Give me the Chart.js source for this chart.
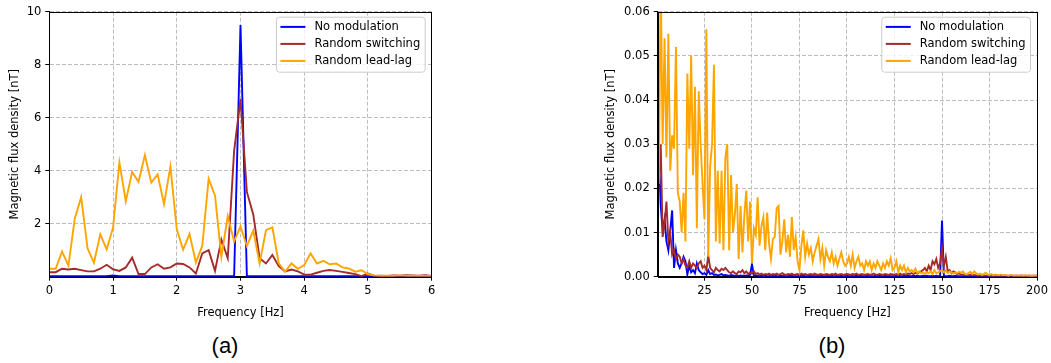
<!DOCTYPE html>
<html>
<head>
<meta charset="utf-8">
<script src="https://cdn.jsdelivr.net/npm/chart.js@4.4.1/dist/chart.umd.min.js"></script>
<style>
    body { margin: 0; background: #fff; width: 1051px; height: 363px; position: relative; overflow: hidden; }
    canvas { position: absolute; top: 0; }
    #chartA { left: 0; }
    #chartB { left: 596px; }
    .caption { position: absolute; top: 333px; font: 22px "Liberation Sans", Arial, sans-serif; color: #000; transform: translateX(-50%); }
</style>
</head>
<body>
<canvas id="chartA" width="445" height="320"></canvas>
<canvas id="chartB" width="455" height="320"></canvas>
<div class="caption" style="left:225px">(a)</div>
<div class="caption" style="left:832px">(b)</div>
<script>
const seriesLabels = ['No modulation', 'Random switching', 'Random lead-lag'];
const seriesColors = ['#0000ff', '#a52a2a', '#ffa500'];

// (a) low frequency range, 0.1 Hz steps
const freqA = Array.from({ length: 61 }, (_, i) => Math.round(i) / 10);
const noModA = [0.02,0.02,0.02,0.02,0.02,0.02,0.02,0.02,0.02,0.02,
    0.05,0.02,0.02,0.02,0.02,0.02,0.02,0.02,0.02,0.02,
    0.02,0.02,0.02,0.02,0.02,0.02,0.02,0.02,0.02,0.02,
    9.5,0.02,0.02,0.02,0.02,0.02,0.02,0.02,0.02,0.02,
    0.02,0.02,0.02,0.02,0.02,0.02,0.02,0.02,0.02,0.02,
    0.02,0.02,0.02,0.02,0.02,0.02,0.02,0.02,0.02,0.02,0.02];
const switchA = [0.17,0.17,0.3,0.27,0.3,0.25,0.2,0.2,0.3,0.45,
    0.28,0.22,0.35,0.72,0.1,0.1,0.35,0.47,0.3,0.35,
    0.5,0.48,0.35,0.12,0.88,1.0,0.22,1.4,0.7,4.75,
    6.7,3.2,2.35,0.7,0.5,0.82,0.4,0.2,0.27,0.2,
    0.08,0.08,0.15,0.22,0.25,0.22,0.18,0.14,0.1,0.02,
    0.12,0.03,0.04,0.03,0.05,0.04,0.06,0.05,0.04,0.06,0.03];
const leadLagA = [0.3,0.3,0.95,0.42,2.2,3.0,1.07,0.53,1.6,1.03,
    1.85,4.31,2.85,3.95,3.58,4.59,3.55,3.86,2.74,4.16,
    1.79,1.02,1.61,0.54,1.16,3.7,3.06,0.75,2.29,1.33,
    1.9,1.16,1.74,0.5,1.76,1.86,0.5,0.19,0.5,0.3,
    0.44,0.88,0.5,0.6,0.47,0.5,0.35,0.31,0.19,0.24,
    0.1,0.05,0.03,0.04,0.03,0.05,0.03,0.04,0.03,0.03,0.03];

// (b) wide frequency range, 1 Hz steps from 1 to 200 Hz
const freqB = Array.from({ length: 200 }, (_, i) => i + 1);
const noModB = [0.028,0.016,0.0105,0.013,0.008,0.006,0.0105,0.015,0.002,0.006,
    0.003,0.002,0.003,0.0045,0.0035,0.0005,0.0025,0.001,0.0015,0.0008,
    0.003,0.0015,0.001,0.0006,0.0008,0.0004,0.0015,0.0006,0.0008,0.0004,
    0.0005,0.0003,0.0004,0.0006,0.0003,0.0004,0.0003,0.0002,0.0004,0.0003,
    0.0002,0.0003,0.0002,0.0003,0.0002,0.0002,0.0003,0.0002,0.0004,0.0028,
    0.0003,0.0002,0.0002,0.0001,0.0002,0.0001,0.0002,0.0001,0.0001,0.0002,
    0.0001,0.0002,0.0001,0.0001,0.0002,0.0001,0.0002,0.0001,0.0001,0.0002,
    0.0001,0.0002,0.0001,0.0001,0.0002,0.0001,0.0002,0.0001,0.0001,0.0002,
    0.0001,0.0002,0.0001,0.0001,0.0002,0.0001,0.0002,0.0001,0.0001,0.0002,
    0.0001,0.0002,0.0001,0.0001,0.0002,0.0001,0.0002,0.0001,0.0001,0.0002,
    0.0001,0.0002,0.0001,0.0001,0.0002,0.0001,0.0002,0.0001,0.0001,0.0002,
    0.0001,0.0002,0.0001,0.0001,0.0002,0.0001,0.0002,0.0001,0.0001,0.0002,
    0.0001,0.0002,0.0001,0.0001,0.0002,0.0001,0.0002,0.0001,0.0001,0.0002,
    0.0001,0.0002,0.0001,0.0001,0.0002,0.0001,0.0002,0.0001,0.0001,0.0002,
    0.0001,0.0002,0.0001,0.0001,0.0002,0.0001,0.0002,0.0001,0.0002,0.0127,
    0.0002,0.0001,0.0001,0.0002,0.0001,0.0001,0.0002,0.0001,0.0001,0.0001,
    0.0001,0.0001,0.0001,0.0001,0.0001,0.0001,0.0001,0.0001,0.0001,0.0001,
    0.0001,0.0001,0.0001,0.0001,0.0001,0.0001,0.0001,0.0001,0.0001,0.0001,
    0.0001,0.0001,0.0001,0.0001,0.0001,0.0001,0.0001,0.0001,0.0001,0.0001,
    0.0001,0.0001,0.0001,0.0001,0.0001,0.0001,0.0001,0.0001,0.0001,0.0001];
const switchB = [0.022,0.030,0.009,0.012,0.017,0.008,0.010,0.005,0.006,0.004,
    0.005,0.0045,0.003,0.004,0.0025,0.002,0.0035,0.002,0.003,0.0025,
    0.002,0.003,0.0035,0.002,0.0025,0.0015,0.0048,0.002,0.0015,0.001,
    0.002,0.0015,0.0012,0.0018,0.0015,0.002,0.0015,0.001,0.0008,0.0012,
    0.0008,0.0006,0.0012,0.001,0.0015,0.0008,0.0012,0.0006,0.0009,0.0007,
    0.0012,0.0006,0.0008,0.0005,0.0007,0.0004,0.0006,0.0005,0.0007,0.0004,
    0.0006,0.0005,0.0007,0.0004,0.0006,0.0008,0.0005,0.0004,0.0006,0.0005,
    0.0007,0.0004,0.0005,0.0006,0.0004,0.0007,0.0005,0.0006,0.0004,0.0005,
    0.0006,0.0004,0.0007,0.0005,0.0004,0.0006,0.0005,0.0004,0.0006,0.0005,
    0.0004,0.0006,0.0005,0.0007,0.0004,0.0005,0.0006,0.0004,0.0005,0.0006,
    0.0005,0.0004,0.0006,0.0005,0.0007,0.0004,0.0005,0.0006,0.0004,0.0005,
    0.0006,0.0004,0.0005,0.0007,0.0005,0.0004,0.0006,0.0005,0.0004,0.0006,
    0.0005,0.0004,0.0006,0.0005,0.0004,0.0006,0.0005,0.0007,0.0004,0.0006,
    0.0005,0.0007,0.0006,0.0008,0.0006,0.0009,0.0007,0.001,0.0012,0.0015,
    0.002,0.0012,0.0025,0.0015,0.0035,0.0028,0.004,0.002,0.003,0.0064,
    0.0025,0.0045,0.0012,0.0015,0.0008,0.0012,0.001,0.0006,0.0008,0.0004,
    0.0005,0.0003,0.0004,0.0003,0.0005,0.0003,0.0004,0.0003,0.0002,0.0003,
    0.0002,0.0003,0.0002,0.0003,0.0002,0.0002,0.0003,0.0002,0.0002,0.0003,
    0.0002,0.0002,0.0003,0.0002,0.0002,0.0002,0.0003,0.0002,0.0002,0.0002,
    0.0002,0.0003,0.0002,0.0002,0.0002,0.0003,0.0002,0.0002,0.0002,0.0002];
const leadLagB = [0.021,0.068,0.030,0.054,0.027,0.055,0.024,0.032,0.029,0.052,
    0.019,0.017,0.010,0.019,0.008,0.046,0.029,0.050,0.023,0.043,
    0.011,0.042,0.030,0.021,0.013,0.056,0.0045,0.025,0.030,0.048,
    0.008,0.024,0.0075,0.024,0.006,0.027,0.030,0.006,0.023,0.010,
    0.014,0.021,0.004,0.016,0.0055,0.014,0.0195,0.008,0.017,0.003,
    0.011,0.0095,0.018,0.007,0.0115,0.0135,0.006,0.0145,0.0075,0.004,
    0.0085,0.009,0.0155,0.016,0.005,0.008,0.013,0.0055,0.0095,0.0045,
    0.0135,0.006,0.009,0.0035,0.0015,0.007,0.0105,0.0045,0.0075,0.005,
    0.0065,0.0035,0.0055,0.007,0.0085,0.004,0.0065,0.0025,0.006,0.0045,
    0.0035,0.0055,0.003,0.0045,0.0025,0.004,0.0055,0.0035,0.0025,0.003,
    0.0045,0.0025,0.005,0.002,0.0035,0.0045,0.0025,0.003,0.0015,0.0035,
    0.0025,0.0035,0.0015,0.003,0.002,0.0035,0.0025,0.0015,0.003,0.002,
    0.0035,0.0025,0.0042,0.0015,0.002,0.0035,0.001,0.0025,0.0015,0.0025,
    0.001,0.002,0.0012,0.0015,0.001,0.0018,0.0008,0.0012,0.0008,0.001,
    0.0006,0.001,0.0008,0.0012,0.0006,0.0015,0.0008,0.001,0.0012,0.0015,
    0.001,0.0014,0.0008,0.0012,0.0009,0.0007,0.001,0.0008,0.0011,0.0009,
    0.0012,0.0007,0.0005,0.0009,0.0011,0.0006,0.0012,0.0008,0.0005,0.0007,
    0.0004,0.0006,0.0009,0.0005,0.0004,0.0006,0.0003,0.0005,0.0004,0.0003,
    0.0005,0.0003,0.0004,0.0003,0.0002,0.0004,0.0003,0.0002,0.0003,0.0002,
    0.0003,0.0002,0.0002,0.0003,0.0002,0.0002,0.0001,0.0002,0.0002,0.0002];

const FONT = { family: '"DejaVu Sans", sans-serif', size: 11.5 };

// draws the top/right spines and a matplotlib-style legend box in the upper right
const frameLegendPlugin = {
    id: 'frameLegend',
    afterDraw: (chart) => {
        const ctx = chart.ctx;
        const area = chart.chartArea;
        ctx.save();
        ctx.strokeStyle = '#000';
        ctx.lineWidth = 1;
        ctx.strokeRect(Math.round(area.left) + 0.5, Math.round(area.top) + 0.5,
            Math.round(area.right - area.left), Math.round(area.bottom - area.top));

        ctx.font = `${FONT.size}px ${FONT.family}`;
        const textW = Math.max(...seriesLabels.map(t => ctx.measureText(t).width));
        const w = 38 + textW + 5;
        const h = 55;
        const x = area.right - 6.5 - w;
        const y = area.top + 5.5;
        ctx.beginPath();
        ctx.roundRect(x, y, w, h, 3);
        ctx.fillStyle = 'rgba(255,255,255,0.8)';
        ctx.fill();
        ctx.strokeStyle = '#cccccc';
        ctx.stroke();
        ctx.textBaseline = 'middle';
        seriesLabels.forEach((label, i) => {
            const cy = y + 9.7 + i * 17;
            ctx.beginPath();
            ctx.moveTo(x + 4, cy);
            ctx.lineTo(x + 29, cy);
            ctx.strokeStyle = seriesColors[i];
            ctx.lineWidth = 2;
            ctx.stroke();
            ctx.fillStyle = '#000';
            ctx.fillText(label, x + 38, cy + 0.5);
        });
        ctx.restore();
    }
};

const makeDatasets = (freq, seriesList) => seriesList.map((values, i) => ({
    label: seriesLabels[i],
    data: values.map((v, k) => ({ x: freq[k], y: v })),
    borderColor: seriesColors[i],
    backgroundColor: seriesColors[i],
    borderWidth: 1.9,
    pointRadius: 0,
    tension: 0,
    order: 2 - i // lead-lag drawn on top
}));

const gridOpts = { color: '#bdbdbd', tickColor: '#000', tickLength: 4, lineWidth: 1 };

const renderSpectrumChart = ({ targetId, freq, seriesList, xOpts, yOpts, yAxisWidth, rightPad, yFormat }) => {
    const ctx = document.getElementById(targetId).getContext('2d');
    new Chart(ctx, {
        type: 'line',
        data: { datasets: makeDatasets(freq, seriesList) },
        options: {
            responsive: false,
            animation: false,
            layout: { padding: { top: 11.7, right: rightPad, bottom: 0, left: 0 } },
            plugins: { legend: { display: false }, tooltip: { enabled: false } },
            scales: {
                x: {
                    type: 'linear',
                    ...xOpts,
                    grid: gridOpts,
                    border: { display: true, color: '#000', dash: [4, 2] },
                    ticks: { ...xOpts.ticks, color: '#000', font: FONT, padding: 3, maxRotation: 0 },
                    title: { display: true, text: 'Frequency [Hz]', color: '#000', font: FONT, padding: { top: 7, bottom: 0 } },
                    afterFit: (scale) => { scale.height = 43.3; }
                },
                y: {
                    ...yOpts,
                    grid: gridOpts,
                    border: { display: true, color: '#000', dash: [4, 2] },
                    ticks: { ...yOpts.ticks, color: '#000', font: FONT, padding: 4, callback: yFormat },
                    title: { display: true, text: 'Magnetic flux density [nT]', color: '#000', font: FONT, padding: { top: 8, bottom: 0 } },
                    afterFit: (scale) => { scale.width = yAxisWidth; }
                }
            }
        },
        plugins: [frameLegendPlugin]
    });
};

renderSpectrumChart({
    targetId: 'chartA',
    freq: freqA,
    seriesList: [noModA, switchA, leadLagA],
    xOpts: { min: 0, max: 6, ticks: { stepSize: 1 } },
    yOpts: {
        min: 0, max: 10, ticks: { stepSize: 2 },
        afterBuildTicks: (scale) => { scale.ticks = scale.ticks.filter(t => t.value !== 0); }
    },
    yAxisWidth: 49.3,
    rightPad: 13.3,
    yFormat: (v) => String(v)
});

renderSpectrumChart({
    targetId: 'chartB',
    freq: freqB,
    seriesList: [noModB, switchB, leadLagB],
    xOpts: {
        min: 0.4, max: 200, ticks: { stepSize: 25 },
        afterBuildTicks: (scale) => {
            scale.ticks = [25, 50, 75, 100, 125, 150, 175, 200].map(v => ({ value: v }));
        }
    },
    yOpts: { min: 0, max: 0.06, ticks: { stepSize: 0.01 } },
    yAxisWidth: 61.7,
    rightPad: 13,
    yFormat: (v) => Number(v).toFixed(2)
});
</script>
</body>
</html>
